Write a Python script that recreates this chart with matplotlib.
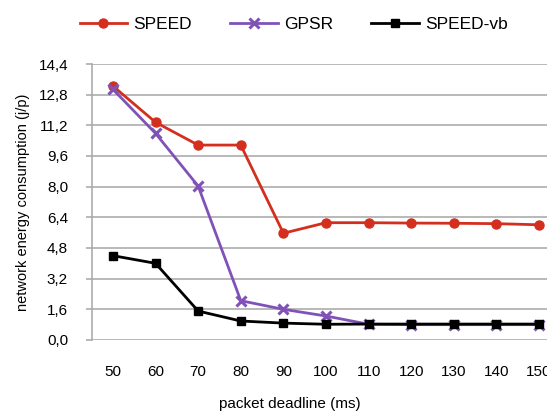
import matplotlib
matplotlib.use('Agg')
import matplotlib.pyplot as plt
import numpy as np

# packet deadline categories (ms)
deadlines = ['50', '60', '70', '80', '90', '100', '110', '120', '130', '140', '150']

# network energy consumption (j/p)
speed = [13.25, 11.36, 10.17, 10.17, 5.57, 6.12, 6.12, 6.1, 6.09, 6.07, 6.01]
gpsr = [13.08, 10.78, 8.03, 2.05, 1.6, 1.25, 0.82, 0.8, 0.8, 0.8, 0.8]
speed_vb = [4.4, 4.0, 1.51, 0.99, 0.88, 0.82, 0.83, 0.83, 0.83, 0.83, 0.83]

y_ticks = np.arange(0, 14.41, 1.6)

plt.rcParams['font.family'] = ['Liberation Sans', 'DejaVu Sans']
plt.rcParams['font.size'] = 11

fig = plt.figure(figsize=(5.47, 4.17), dpi=100)
ax = fig.add_axes([0.1675, 0.1847, 0.857, 0.6618])

x = np.arange(len(deadlines))
ax.plot(x, speed, color='#d42f1e', lw=2.0, marker='o', ms=6.5, label='SPEED', zorder=3)
ax.plot(x, gpsr, color='#8052b8', lw=2.0, marker='x', ms=7, mew=2.2, label='GPSR', zorder=3)
ax.plot(x, speed_vb, color='black', lw=2.0, marker='s', ms=6, label='SPEED-vb', zorder=4)

ax.set_xlim(-0.5, len(deadlines) - 0.5)
ax.set_ylim(0, 14.4)
ax.set_yticks(y_ticks)
ax.set_yticklabels([f'{v:.1f}'.replace('.', ',') for v in y_ticks])
ax.set_xticks(x)
ax.set_xticklabels(deadlines)

ax.grid(axis='y', color='#a6a6a6', lw=1.1)
ax.set_axisbelow(True)
for s in ['top', 'right', 'bottom']:
    ax.spines[s].set_visible(False)
ax.spines['left'].set_color('#a6a6a6')
ax.spines['left'].set_linewidth(1.1)
ax.tick_params(axis='y', length=4, color='#a6a6a6', width=1.1, pad=13)
ax.tick_params(axis='x', length=0, pad=18)

ax.set_xlabel('packet deadline (ms)', labelpad=18)
ax.xaxis.set_label_coords(0.422, -0.205)
ax.set_ylabel('network energy consumption (j/p)', fontsize=10.5, labelpad=6)

fig.legend(loc='upper center', bbox_to_anchor=(0.537, 0.998), ncol=3, frameon=False,
           handlelength=2.75, columnspacing=2.2, handletextpad=0.35, fontsize=12.5)

fig.savefig('out.png', dpi=100)
